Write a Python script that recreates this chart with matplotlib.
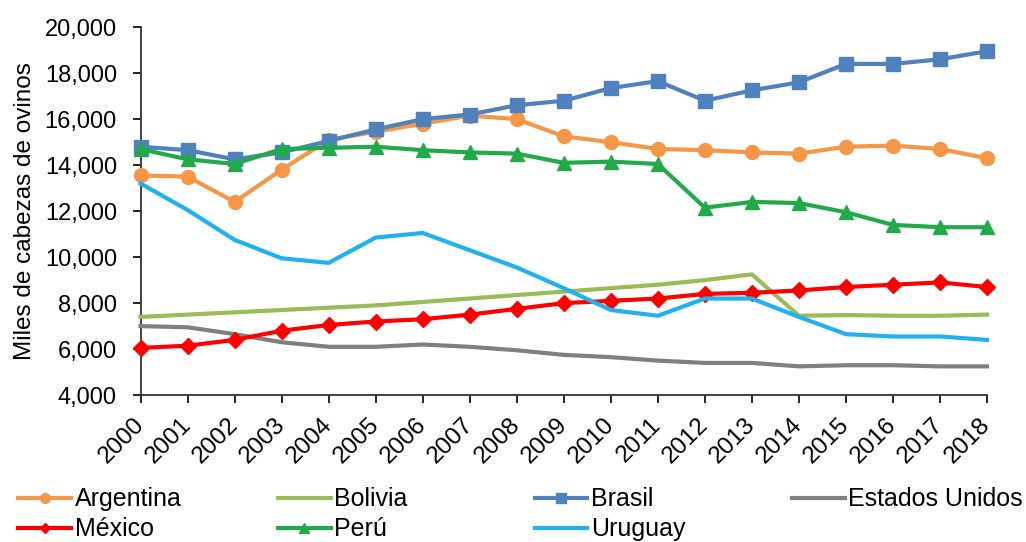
import matplotlib
matplotlib.use("Agg")
import matplotlib.pyplot as plt
from matplotlib.ticker import FuncFormatter

years = list(range(2000, 2019))

argentina = [13550, 13500, 12400, 13800, 15100, 15450, 15800, 16150, 16000, 15250,
             15000, 14700, 14650, 14550, 14500, 14800, 14850, 14700, 14300]
bolivia = [7400, 7500, 7600, 7700, 7800, 7900, 8050, 8200, 8350, 8500,
           8650, 8800, 9000, 9250, 7450, 7480, 7450, 7450, 7500]
brasil = [14800, 14650, 14250, 14550, 15050, 15550, 16000, 16200, 16600, 16800,
          17350, 17650, 16800, 17250, 17600, 18400, 18400, 18600, 18950]
estados_unidos = [7000, 6950, 6650, 6300, 6100, 6100, 6200, 6100, 5950, 5750,
                  5650, 5500, 5400, 5400, 5250, 5300, 5300, 5250, 5250]
mexico = [6050, 6150, 6400, 6800, 7050, 7200, 7300, 7500, 7750, 8000,
          8100, 8200, 8400, 8450, 8550, 8700, 8800, 8900, 8700]
peru = [14700, 14250, 14050, 14700, 14750, 14800, 14650, 14550, 14500, 14100,
        14150, 14050, 12150, 12400, 12350, 11950, 11400, 11300, 11300]
uruguay = [13200, 12050, 10750, 9950, 9750, 10850, 11050, 10300, 9550, 8650,
           7700, 7450, 8200, 8200, 7400, 6650, 6550, 6550, 6400]

plt.rcParams["font.family"] = ["Liberation Sans", "DejaVu Sans"]

fig = plt.figure(figsize=(10.26, 5.42), dpi=100)
ax = fig.add_axes([0.137, 0.271, 0.825, 0.679])

lw = 3.0
series = [
    ("Argentina", argentina, "#F79646", "o", 10),
    ("Bolivia", bolivia, "#9BBB59", None, 0),
    ("Brasil", brasil, "#4F81BD", "s", 9.5),
    ("Estados Unidos", estados_unidos, "#7F7F7F", None, 0),
    ("México", mexico, "#FF0000", "D", 8),
    ("Perú", peru, "#22AA4A", "^", 10),
    ("Uruguay", uruguay, "#1FB1F0", None, 0),
]
lines = {}
for name, vals, col, mk, ms in series:
    ln, = ax.plot(years, vals, color=col, lw=lw, marker=mk, markersize=ms,
                  label=name, clip_on=False, zorder=3)
    lines[name] = ln

ax.set_xlim(2000, 2018)
ax.set_ylim(4000, 20000)
ax.set_yticks(range(4000, 20001, 2000))
ax.yaxis.set_major_formatter(FuncFormatter(lambda v, p: f"{int(v):,}"))
ax.set_xticks(years)
ax.set_xticklabels([str(y) for y in years], rotation=45, ha="right", va="center",
                   rotation_mode="anchor", fontsize=17.5)
ax.tick_params(axis="y", labelsize=17, direction="out", length=6, width=1.2, pad=11)
ax.tick_params(axis="x", direction="out", length=6, width=1.2, pad=13)
for s in ("top", "right"):
    ax.spines[s].set_visible(False)
for s in ("left", "bottom"):
    ax.spines[s].set_color("#333333")
    ax.spines[s].set_linewidth(1.3)
ax.set_ylabel("Miles de cabezas de ovinos", fontsize=17.5)
ax.yaxis.set_label_coords(-0.124, 0.5)

# legend: four evenly spaced columns
columns = [["Argentina", "México"], ["Bolivia", "Perú"], ["Brasil", "Uruguay"],
           ["Estados Unidos"]]
col_x = [0.018, 0.271, 0.521, 0.772]
for cx, names in zip(col_x, columns):
    fig.legend([lines[n] for n in names], names, loc="upper left",
               bbox_to_anchor=(cx, 0.101), frameon=False, fontsize=18,
               handlelength=2.1, handletextpad=0.15, labelspacing=0.24,
               borderaxespad=0, borderpad=0, markerscale=0.7)

fig.savefig("out.png", dpi=100)
